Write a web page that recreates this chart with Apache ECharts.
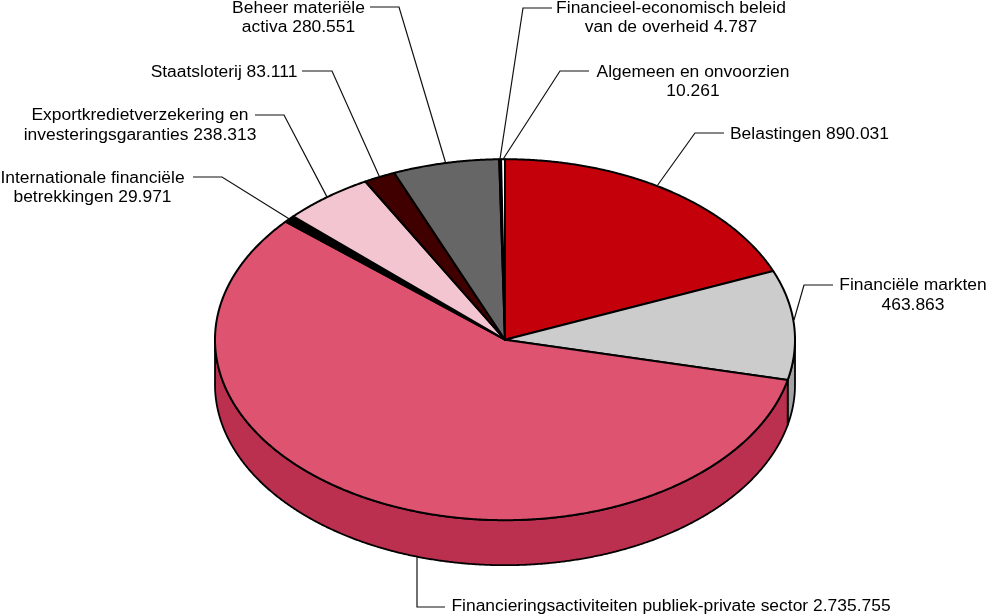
<!DOCTYPE html>
<html>
	<head>
		<meta charset="utf-8">
		<title>Financiën</title>
		<style type="text/css">
			html,body {
				margin: 0;
				background: #FFFFFF;
			}
			#chart {
				width: 986px;
				height: 614px;
			}
		</style>
	</head>
	<body>
		<div id="chart"></div>
		<script src="https://cdn.jsdelivr.net/npm/echarts@6/dist/echarts.min.js"></script>
		<script type="text/javascript">
			var categories = ['Belastingen', 'Financiële markten', 'Financieringsactiviteiten publiek-private sector', 'Internationale financiële betrekkingen', 'Exportkredietverzekering en investeringsgaranties', 'Staatsloterij', 'Beheer materiële activa', 'Financieel-economisch beleid van de overheid', 'Algemeen en onvoorzien'];
			var values = [890031, 463863, 2735755, 29971, 238313, 83111, 280551, 4787, 10261];
			var labels = ['Belastingen 890.031', 'Financiële markten\n463.863', 'Financieringsactiviteiten publiek-private sector 2.735.755', 'Internationale financiële\nbetrekkingen 29.971', 'Exportkredietverzekering en\ninvesteringsgaranties 238.313', 'Staatsloterij 83.111', 'Beheer materiële\nactiva 280.551', 'Financieel-economisch beleid\nvan de overheid 4.787', 'Algemeen en onvoorzien\n10.261'];
			var topColors = ['#C4000B', '#CCCCCC', '#DD5370', '#000000', '#F3C5D0', '#400000', '#666666', '#000000', '#FFFFFF'];
			var sideColors = ['#92000A', '#A3A3A3', '#BC304F', '#000000', '#C29DA6', '#300000', '#4C4C4C', '#000000', '#CCCCCC'];

			// pie geometry, ellipse seen from above
			var cx = 505, cy = 339.7, rx = 290, ry = 180.5, depth = 45;

			// label placement: text centre, line start and elbow of each leader
			var labelPos = [
				{x: 809.5, y: 134.5, start: [724, 133], elbow: [695, 133], end: [657, 186]},
				{x: 913, y: 295.5, start: [833, 285], elbow: [804, 285], end: [794, 320]},
				{x: 671, y: 606.5, start: [445, 607], elbow: [417, 607], end: [417, 557]},
				{x: 92.5, y: 188, start: [193, 177], elbow: [222, 177]},
				{x: 140, y: 125.5, start: [255, 115], elbow: [284, 115]},
				{x: 224, y: 72.5, start: [302, 71], elbow: [332, 71]},
				{x: 298.5, y: 18, start: [370, 7], elbow: [399, 7]},
				{x: 671, y: 18, start: [552, 8], elbow: [523, 8], end: [500, 159]},
				{x: 693, y: 82, start: [589, 71], elbow: [560, 71]}
			];

			var total = values.reduce(function (a, b) { return a + b; }, 0);

			function sliceAngles(i) {
				var before = values.slice(0, i).reduce(function (a, b) { return a + b; }, 0);
				return [before / total * Math.PI * 2, (before + values[i]) / total * Math.PI * 2];
			}

			function ellipsePoint(angle, offset) {
				return [cx + rx * Math.sin(angle), cy - ry * Math.cos(angle) + (offset || 0)];
			}

			function arcPoints(from, to, offset) {
				var pts = [];
				var steps = Math.max(2, Math.ceil((to - from) / 0.005));
				for (var s = 0; s <= steps; s++) {
					pts.push(ellipsePoint(from + (to - from) * s / steps, offset));
				}
				return pts;
			}

			function renderSide(params) {
				var a = sliceAngles(params.dataIndex);
				var from = Math.max(a[0], Math.PI / 2);
				var to = Math.min(a[1], Math.PI * 1.5);
				if (from >= to) {
					return null;
				}
				return {
					type: 'polygon',
					shape: {points: arcPoints(from, to, 0).concat(arcPoints(from, to, depth).reverse())},
					style: {fill: sideColors[params.dataIndex], stroke: '#000000', lineWidth: 1.8, lineJoin: 'round'}
				};
			}

			function renderTop(params) {
				var a = sliceAngles(params.dataIndex);
				return {
					type: 'polygon',
					shape: {points: [[cx, cy]].concat(arcPoints(a[0], a[1], 0))},
					style: {fill: topColors[params.dataIndex], stroke: '#000000', lineWidth: 2, lineJoin: 'round'}
				};
			}

			function renderLabel(params) {
				var i = params.dataIndex;
				var a = sliceAngles(i);
				var pos = labelPos[i];
				var end = pos.end || ellipsePoint((a[0] + a[1]) / 2, 0);
				return {
					type: 'group',
					children: [{
						type: 'polyline',
						shape: {points: [pos.start, pos.elbow, end]},
						style: {fill: null, stroke: '#111111', lineWidth: 1.2}
					}, {
						type: 'text',
						x: pos.x,
						y: pos.y,
						// reference type is wider than Liberation Sans
						scaleX: 1.09,
						style: {
							text: labels[i],
							fill: '#000000',
							font: '16px "Liberation Sans"',
							lineHeight: 19.5,
							align: 'center',
							verticalAlign: 'middle'
						}
					}]
				};
			}

			var seriesData = categories.map(function (name, i) {
				return {name: name, value: values[i]};
			});

			var myChart = echarts.init(document.getElementById('chart'));
			var option = {
				animation: false,
				backgroundColor: '#FFFFFF',
				series: [
					{type: 'custom', coordinateSystem: 'none', renderItem: renderSide, data: seriesData, silent: true, z: 1},
					{type: 'custom', coordinateSystem: 'none', renderItem: renderTop, data: seriesData, silent: true, z: 2},
					{type: 'custom', coordinateSystem: 'none', renderItem: renderLabel, data: seriesData, silent: true, z: 3}
				]
			};
			myChart.setOption(option);
		</script>
	</body>
</html>
